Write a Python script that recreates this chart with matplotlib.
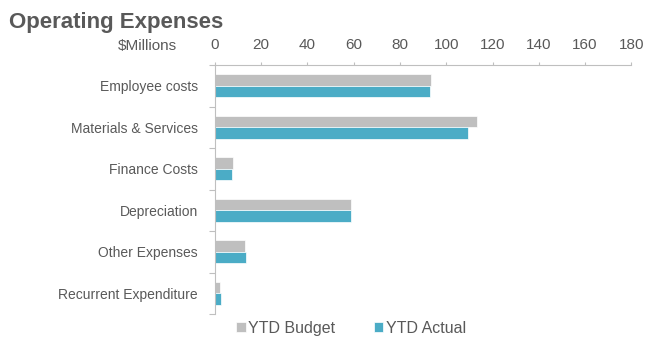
import numpy as np
import matplotlib.pyplot as plt

plt.rcParams["font.family"] = ["Liberation Sans", "DejaVu Sans"]

categories = ["Employee costs", "Materials & Services", "Finance Costs",
              "Depreciation", "Other Expenses", "Recurrent Expenditure"]
ytd_budget = [93.4, 113.2, 7.9, 58.9, 13.1, 2.4]
ytd_actual = [93.0, 109.3, 7.6, 58.9, 13.4, 2.7]
x_ticks = [0, 20, 40, 60, 80, 100, 120, 140, 160, 180]

grey_bar = "#bfbfbf"
blue_bar = "#4bacc6"
text_col = "#595959"
axis_col = "#bfbfbf"

fig = plt.figure(figsize=(6.45, 3.37), dpi=100)
ax = fig.add_axes([214.7 / 645, 1 - 314 / 337, (631.4 - 214.7) / 645, (314 - 65) / 337])

# one row per category, budget above actual
y = np.arange(len(categories))
h = 0.28
ax.barh(y - h / 2, ytd_budget, height=h, color=grey_bar, edgecolor="white",
        linewidth=0.5, label="YTD Budget")
ax.barh(y + h / 2, ytd_actual, height=h, color=blue_bar, edgecolor="white",
        linewidth=0.5, label="YTD Actual")

ax.set_ylim(len(categories) - 0.5, -0.5)
ax.set_xlim(0, 180)

# value axis on top
ax.xaxis.tick_top()
ax.set_xticks(x_ticks)
ax.tick_params(axis="x", colors=axis_col, labelcolor=text_col, labelsize=11,
               length=2.5, width=0.8, direction="out", pad=7)

# category labels, ticks sit between categories
ax.set_yticks(y)
ax.set_yticklabels(categories)
ax.set_yticks(np.arange(len(categories) + 1) - 0.5, minor=True)
ax.tick_params(axis="y", which="major", length=0, labelcolor=text_col,
               labelsize=10, pad=12)
ax.tick_params(axis="y", which="minor", length=4, width=0.8, colors=axis_col)

for side in ["right", "bottom"]:
    ax.spines[side].set_visible(False)
for side in ["top", "left"]:
    ax.spines[side].set_color(axis_col)
    ax.spines[side].set_linewidth(0.8)

fig.text(9 / 645, 1 - 22.5 / 337, "Operating Expenses", fontsize=16,
         fontweight="bold", color=text_col, va="center", ha="left")
fig.text(177 / 645, 1 - 46 / 337, "$Millions", fontsize=11, color=text_col,
         va="center", ha="right")

ax.legend(loc="upper left", bbox_to_anchor=(0.033, 0.004), ncol=2, frameon=False,
          fontsize=11.5, labelcolor=text_col, handlelength=0.6, handleheight=0.6,
          handletextpad=0.15, columnspacing=2.4, borderpad=0)

fig.savefig("out.png", dpi=100)
